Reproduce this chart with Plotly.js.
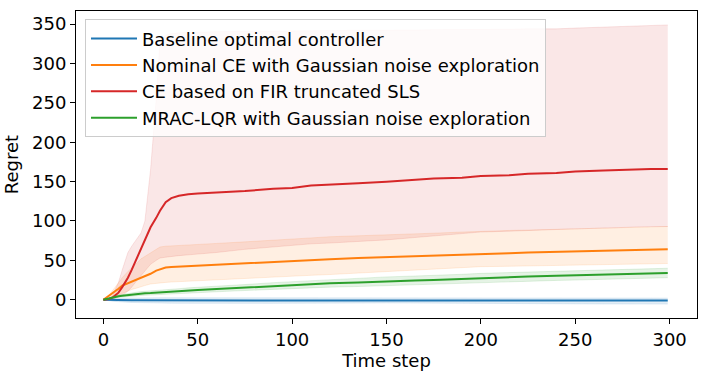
<!DOCTYPE html>
<html>
<head>
<meta charset="utf-8">
<script src="https://cdn.plot.ly/plotly-3.0.1.min.js"></script>
<style>
  html, body { margin: 0; padding: 0; background: #fff; }
  #graph { width: 707px; height: 375px; }
</style>
</head>
<body>
<div id="graph"></div>
<script>
// regret curves (mean and spread band)
var steps = [0, 3, 5, 8, 10, 13, 15, 18, 20, 22, 25, 28, 30, 33, 36, 40, 45, 50, 60, 75, 90, 100, 110, 120, 135, 150, 165, 175, 190, 200, 215, 225, 240, 250, 265, 275, 290, 299];

var baseMean = [0, -0.3, -0.5, -0.6, -0.6, -0.7, -0.7, -0.8, -0.8, -0.8, -0.8, -0.8, -0.9, -0.9, -0.9, -0.9, -1, -1, -1, -0.9, -0.7, -0.6, -0.5, -0.4, -0.3, -0.3, -0.4, -0.5, -0.6, -0.7, -0.8, -0.8, -0.9, -0.9, -1, -1, -1, -1];
var baseUp = [0, 1, 1.5, 2, 2, 2.2, 2.3, 2.4, 2.5, 2.5, 2.5, 2.5, 2.5, 2.5, 2.5, 2.5, 2.5, 2.5, 2.5, 2.6, 2.8, 3, 3, 3, 3, 3, 2.9, 2.8, 2.7, 2.6, 2.5, 2.5, 2.4, 2.3, 2.2, 2.2, 2.1, 2];
var baseLo = [0, -1.5, -2, -2.5, -3, -3.2, -3.4, -3.6, -3.8, -3.9, -4, -4.1, -4.2, -4.3, -4.4, -4.5, -4.6, -4.7, -4.8, -4.8, -4.6, -4.4, -4.2, -4, -4, -4, -4.2, -4.4, -4.6, -4.8, -5, -5.1, -5.2, -5.3, -5.4, -5.4, -5.5, -5.5];

var nomMean = [0, 5, 8, 14, 18, 21, 22, 25, 27, 29, 33, 37, 39, 41, 41.5, 42, 42.5, 43, 44.5, 46, 48.5, 49.5, 50.5, 51.5, 53, 54, 55, 55.5, 56.5, 57.5, 59, 60, 61, 61.5, 62.5, 63, 63.5, 64];
var nomUp = [0, 6, 12, 22, 28, 36, 40, 47, 52, 55, 60, 65, 67, 68, 68.5, 69, 69.5, 70, 71.5, 73.5, 76, 77, 78.5, 80, 81, 82, 83.5, 84.5, 86, 87, 88, 88.5, 89.5, 90, 91, 91.5, 92.5, 93];
var nomLo = [0, 2, 3, 6, 8, 11, 13, 15, 17, 18, 20, 21, 21.5, 22, 22.5, 23, 23.5, 24, 25, 27, 29, 30, 31, 32, 34, 36, 38, 39, 41, 42, 42.5, 43, 43.5, 44, 44.5, 45, 45.5, 46];

var firMean = [0, 1, 3, 9, 16, 28, 38, 54, 64, 77, 92, 104, 113, 124, 129, 132, 134, 135, 136, 138, 141, 142, 145, 146, 148, 150, 152, 154, 155, 157, 158, 160, 161, 163, 164, 165, 166, 166];
var firUp = [0, 2, 6, 22, 38, 60, 68, 78, 85, 100, 165, 255, 330, 336, 338, 339, 339.5, 340, 340.5, 341, 341, 341, 341.5, 342, 342, 342, 342.5, 343, 343, 343, 343.5, 344, 344, 345, 346, 347, 348, 349];
var firLo = [0, 0, 1, 3, 5, 11, 16, 25, 31, 37, 45, 50, 53, 54, 55, 56, 57, 58, 60, 64, 67, 69, 71, 72, 74, 76, 79, 81, 84, 86, 87, 88, 89, 90, 91, 92, 93, 93];

var mracMean = [0, 2, 3, 4.5, 5, 6, 6.5, 7.5, 8, 8.2, 8.5, 9, 9.5, 10, 10.5, 11, 12, 12.5, 13.5, 15.5, 17.5, 18.5, 20, 21, 22, 23.5, 24.5, 25, 26.5, 27.5, 28.5, 29.5, 30.5, 31, 32, 32.5, 33.5, 34];
var mracUp = [0, 2.5, 4, 6, 6.5, 8, 8.5, 9.7, 10.3, 10.6, 11, 11.6, 12.2, 12.8, 13.4, 14, 15.1, 15.7, 16.9, 19.3, 21.7, 23, 24.7, 26, 27.2, 29, 30.1, 30.7, 32.3, 33.5, 34.5, 35.5, 36.5, 37, 38, 38.5, 39.5, 40];
var mracLo = [0, 1.5, 2, 3, 3.5, 4, 4.5, 5.3, 5.7, 5.8, 6, 6.4, 6.8, 7.2, 7.6, 8, 8.9, 9.3, 10.1, 11.7, 13.3, 14, 15.3, 16, 16.8, 18, 18.9, 19.3, 20.7, 21.5, 22.5, 23.5, 24.5, 25, 26, 26.5, 27.5, 28];

var names = ['Baseline optimal controller', 'Nominal CE with Gaussian noise exploration',
             'CE based on FIR truncated SLS', 'MRAC-LQR with Gaussian noise exploration'];
var colors = ['#1f77b4', '#ff7f0e', '#d62728', '#2ca02c'];
var bands = ['rgba(31,119,180,0.12)', 'rgba(255,127,14,0.12)', 'rgba(214,39,40,0.11)', 'rgba(44,160,44,0.12)'];

var means = [baseMean, nomMean, firMean, mracMean];
var ups = [baseUp, nomUp, firUp, mracUp];
var los = [baseLo, nomLo, firLo, mracLo];

var data = [];
var i;

// shaded bands first
for (i = 0; i < 4; i++) {
  data.push({
    x: steps, y: los[i], type: 'scatter', mode: 'lines',
    line: {color: bands[i], width: 1},
    showlegend: false, hoverinfo: 'skip'
  });
  data.push({
    x: steps, y: ups[i], type: 'scatter', mode: 'lines',
    fill: 'tonexty', fillcolor: bands[i],
    line: {color: bands[i], width: 1},
    showlegend: false, hoverinfo: 'skip'
  });
}

// mean lines on top
for (i = 0; i < 4; i++) {
  data.push({
    x: steps, y: means[i], type: 'scatter', mode: 'lines',
    name: names[i],
    line: {color: colors[i], width: 2}
  });
}

var axisStyle = {
  showline: true, mirror: true, linecolor: '#000', linewidth: 1,
  ticks: 'outside', ticklen: 5, tickwidth: 1, tickcolor: '#000',
  showgrid: false, zeroline: false,
  tickfont: {size: 18, color: '#000'}
};

var layout = {
  width: 707, height: 375,
  margin: {l: 76, r: 10, t: 11, b: 57},
  font: {family: 'DejaVu Sans, sans-serif', size: 18, color: '#000'},
  paper_bgcolor: '#fff', plot_bgcolor: '#fff',
  xaxis: Object.assign({}, axisStyle, {
    range: [-14.5, 314.5], tickvals: [0, 50, 100, 150, 200, 250, 300],
    title: {text: 'Time step', font: {size: 18}, standoff: 5}
  }),
  yaxis: Object.assign({}, axisStyle, {
    range: [-23.2, 366.7], tickvals: [0, 50, 100, 150, 200, 250, 300, 350],
    title: {text: 'Regret', font: {size: 18}, standoff: 8}
  }),
  showlegend: true,
  legend: {
    x: 0.0145, y: 0.973, xanchor: 'left', yanchor: 'top',
    traceorder: 'normal', itemwidth: 46,
    bgcolor: 'rgba(255,255,255,0.8)', bordercolor: '#cccccc', borderwidth: 1,
    font: {size: 18}
  }
};

Plotly.newPlot('graph', data, layout, {staticPlot: true});
</script>
</body>
</html>
